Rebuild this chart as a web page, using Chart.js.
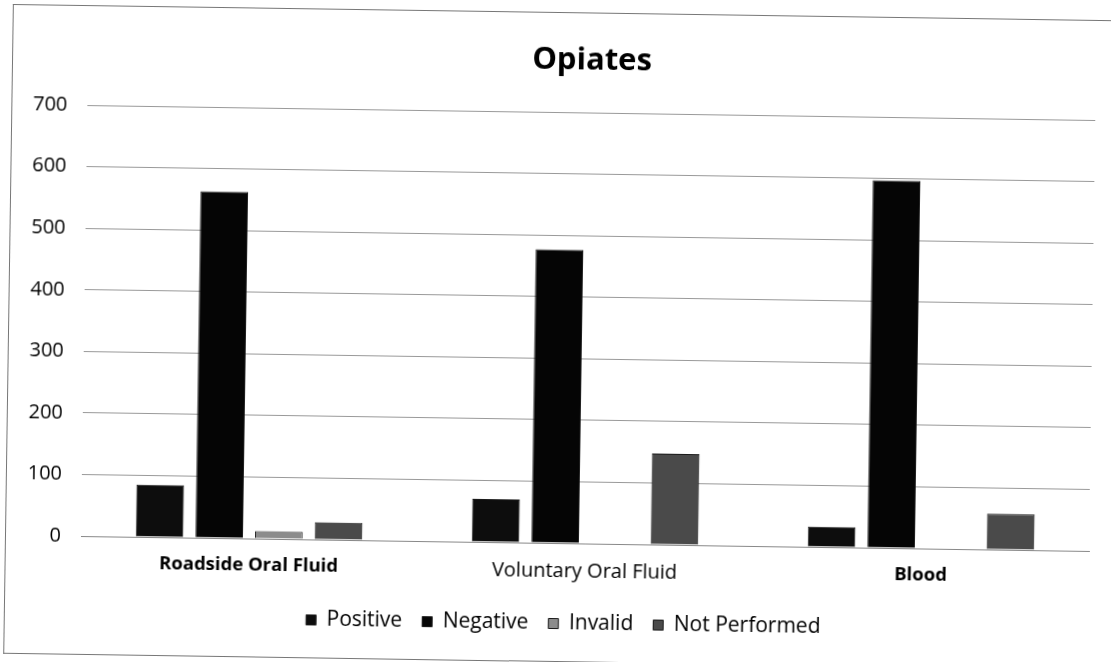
<!DOCTYPE html>
<html>
<head>
<meta charset="utf-8">
<script src="https://cdn.jsdelivr.net/npm/chart.js@4/dist/chart.umd.min.js"></script>
<style>
    html, body { margin: 0; padding: 0; background: #fff; overflow: hidden; }
    #frame {
        position: absolute;
        left: 5px;
        top: 5px;
        width: 1120px;
        height: 648px;
        border-left: 1px solid #777;
        border-top: 1px solid #777;
        border-bottom: 1px solid #777;
        transform-origin: 75px 530px;
        transform: rotate(0.85deg);
    }
</style>
</head>
<body>
<div id="frame"><canvas id="barChart"></canvas></div>
<script>
// ===== DATA =====
const categories = ["Roadside Oral Fluid", "Voluntary Oral Fluid", "Blood"];
const positive = [85, 70, 33];
const negative = [563, 477, 597];
const invalid = [12, 0, 0];
const notPerformed = [28, 148, 58];
const yTicks = [0, 100, 200, 300, 400, 500, 600, 700];

// moves the legend row a little to the right of the canvas centre
const legendShift = {
    id: "legendShift",
    afterLayout: function (chart) {
        chart.legend.left += 17;
        chart.legend.right += 17;
    }
};

document.addEventListener("DOMContentLoaded", function () {
    const ctx = document.getElementById("barChart").getContext("2d");
    Chart.defaults.font.family = "'Open Sans', sans-serif";
    Chart.defaults.color = "#000";

    function series(label, data, color) {
        return {
            label: label,
            data: data,
            backgroundColor: color,
            borderColor: "#1a1a1a",
            borderWidth: 1,
            categoryPercentage: 0.71,
            barPercentage: 0.8
        };
    }

    new Chart(ctx, {
        type: "bar",
        data: {
            labels: categories,
            datasets: [
                series("Positive", positive, "#0d0d0d"),
                series("Negative", negative, "#050505"),
                series("Invalid", invalid, "#8c8c8c"),
                series("Not Performed", notPerformed, "#4a4a4a")
            ]
        },
        plugins: [legendShift],
        options: {
            responsive: true,
            maintainAspectRatio: false,
            animation: false,
            layout: { padding: { left: 0, right: 37, top: 0, bottom: 17 } },
            plugins: {
                title: {
                    display: true,
                    fullSize: false,
                    text: "Opiates",
                    font: { size: 31, weight: "bold" },
                    color: "#000",
                    padding: { top: 29, bottom: 33 }
                },
                legend: {
                    position: "bottom",
                    align: "center",
                    labels: {
                        boxWidth: 10,
                        boxHeight: 10,
                        padding: 20,
                        color: "#000",
                        font: { size: 21 }
                    }
                },
                tooltip: { enabled: false }
            },
            scales: {
                x: {
                    afterFit: function (scale) { scale.height = 50; },
                    grid: { display: false, drawTicks: false },
                    border: { display: true, color: "#888", width: 1 },
                    ticks: {
                        padding: 16,
                        color: "#000",
                        font: function (c) {
                            return c.index === 1
                                ? { size: 20, weight: "normal" }
                                : { size: 18.5, weight: "bold" };
                        }
                    }
                },
                y: {
                    min: 0,
                    max: 700,
                    afterFit: function (scale) { scale.width = 75; },
                    afterBuildTicks: function (scale) {
                        scale.ticks = yTicks.map(v => ({ value: v }));
                    },
                    grid: { color: "#999", lineWidth: 1, drawTicks: false },
                    border: { display: false },
                    ticks: { padding: 20, font: { size: 20 }, color: "#000" }
                }
            }
        }
    });
});
</script>
</body>
</html>
